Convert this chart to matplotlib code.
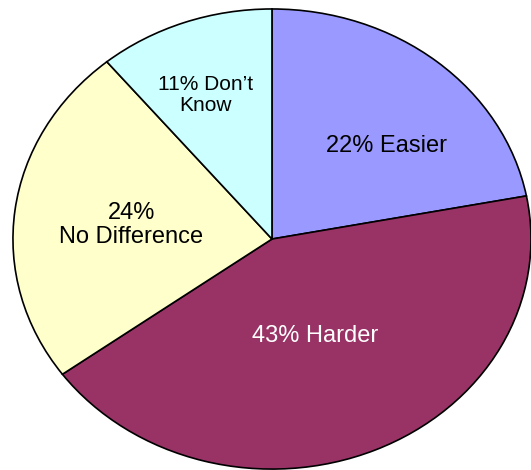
import matplotlib
matplotlib.use("Agg")
import matplotlib.pyplot as plt

plt.rcParams['font.family'] = ['Liberation Sans', 'DejaVu Sans']

# survey answers, clockwise from 12 o'clock
labels = ["22% Easier", "43% Harder", "24%\nNo Difference", "11% Don\u2019t\nKnow"]
shares = [22, 43, 24, 11]
colors = ["#9999FF", "#993366", "#FFFFCC", "#CCFFFF"]
text_colors = ["black", "white", "black", "black"]
font_sizes = [17, 17, 17, 15]
label_pos = [(0.444, 0.405), (0.168, -0.421), (-0.544, 0.062), (-0.255, 0.625)]

fig = plt.figure(figsize=(5.31, 4.70), dpi=100)
ax = fig.add_axes([0, 0, 1, 1])

ax.pie(shares, colors=colors, startangle=90, counterclock=False,
       wedgeprops=dict(edgecolor="black", linewidth=1.2))

# stretch the pie into an ellipse, wider than tall
ax.set_aspect("auto")
ax.set_xlim(-1.050, 1.0)
ax.set_ylim(-1.004, 1.039)
ax.axis("off")

for lab, (x, y), c, fs in zip(labels, label_pos, text_colors, font_sizes):
    ax.text(x, y, lab, ha="center", va="center", color=c, fontsize=fs,
            linespacing=1.1)

fig.savefig("out.png", dpi=100)
